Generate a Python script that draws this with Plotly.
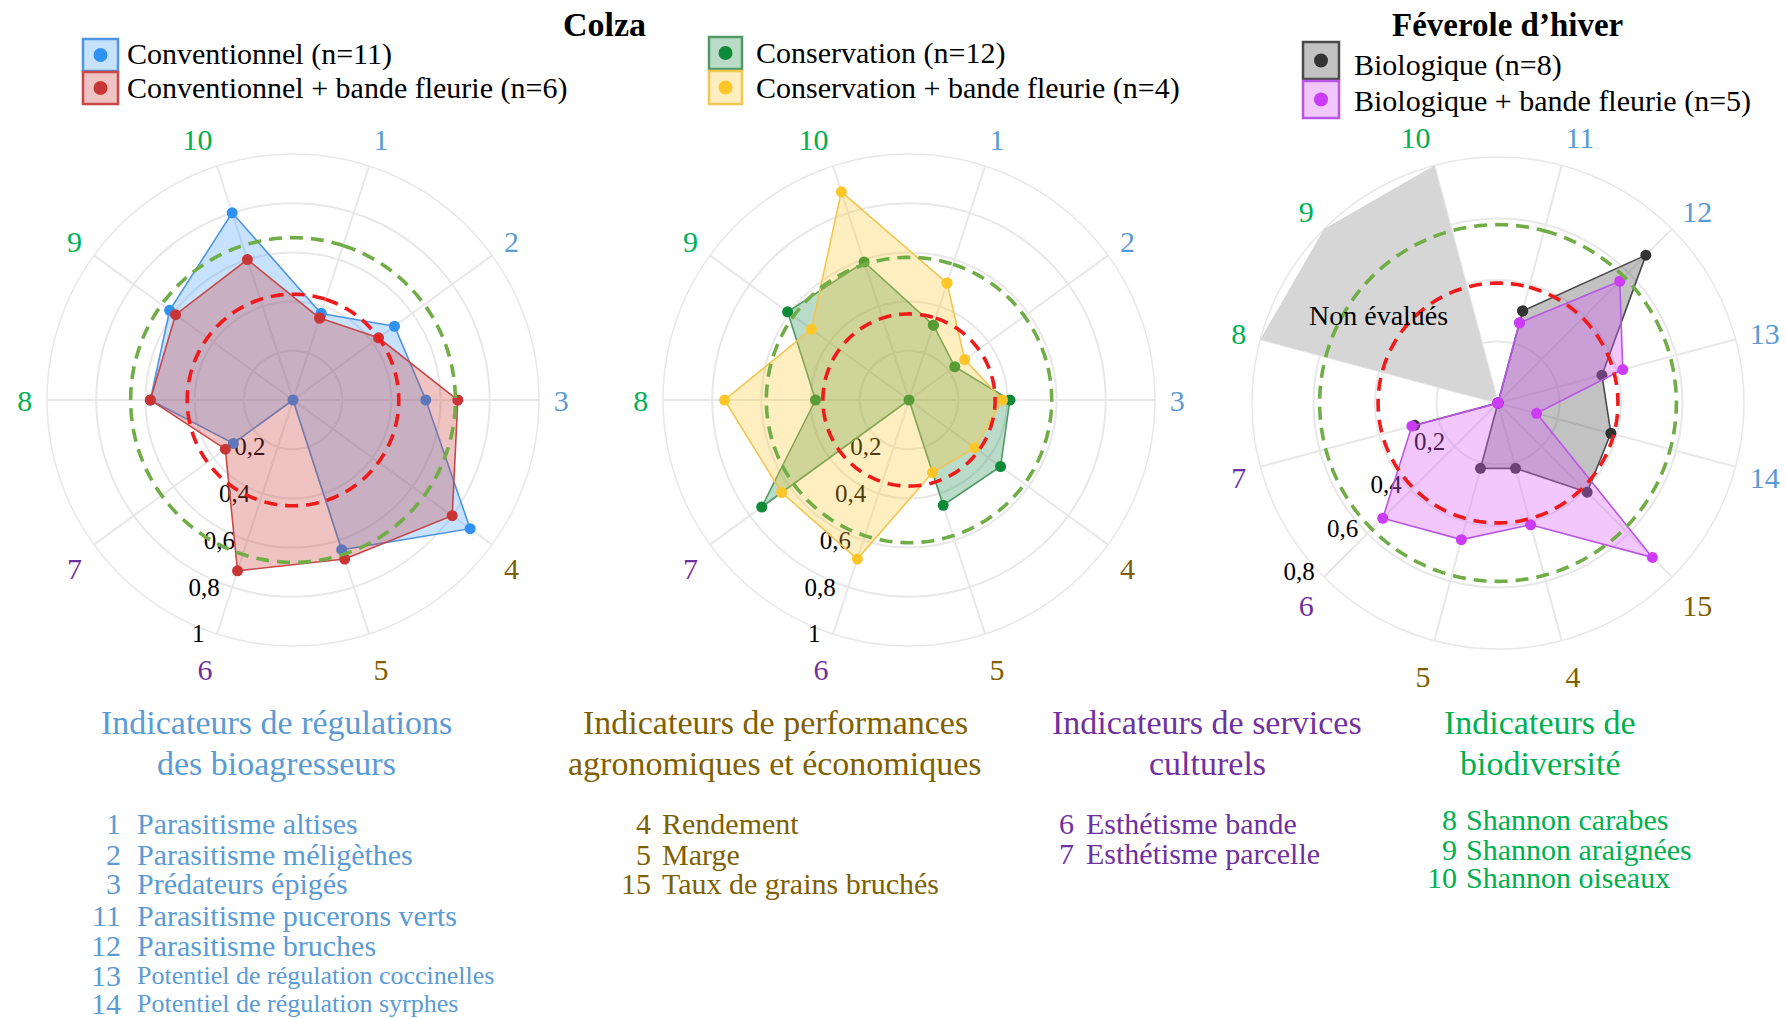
import numpy as np
import plotly.graph_objects as go

W, H = 1786, 1019

# ---------------- data ----------------
colza_axes = ["1", "2", "3", "4", "5", "6", "7", "8", "9", "10"]
feverole_axes = ["11", "12", "13", "14", "15", "4", "5", "6", "7", "8", "9", "10"]

conventionnel = [0.37, 0.51, 0.54, 0.89, 0.64, 0.00, 0.30, 0.58, 0.62, 0.80]
conventionnel_bf = [0.35, 0.43, 0.67, 0.80, 0.68, 0.73, 0.34, 0.58, 0.59, 0.60]
conservation = [0.32, 0.23, 0.41, 0.46, 0.45, 0.00, 0.74, 0.38, 0.61, 0.59]
conservation_bf = [0.50, 0.28, 0.38, 0.33, 0.31, 0.68, 0.64, 0.75, 0.49, 0.89]
biologique = [0.31, 0.68, 0.35, 0.38, 0.41, 0.22, 0.22, 0.00, 0.28, 0.00, 0.00, 0.00]
biologique_bf = [0.27, 0.56, 0.42, 0.13, 0.71, 0.41, 0.46, 0.53, 0.29, 0.00, 0.00, 0.00]

non_evalues = ["8", "9", "10"]

# dashed reference circles (red, green) for each panel
ref_red = [0.43, 0.35, 0.39]
ref_green = [0.66, 0.58, 0.58]

radial_max = [1.0, 1.0, 0.8]
radial_ticks = [[0.2, 0.4, 0.6, 0.8, 1.0], [0.2, 0.4, 0.6, 0.8, 1.0], [0.2, 0.4, 0.6, 0.8]]
radial_ticktext = [["0,2", "0,4", "0,6", "0,8", "1"], ["0,2", "0,4", "0,6", "0,8", "1"],
                   ["0,2", "0,4", "0,6", "0,8"]]

legend_names = [
    ["Conventionnel (n=11)", "Conventionnel + bande fleurie (n=6)"],
    ["Conservation (n=12)", "Conservation + bande fleurie (n=4)"],
    ["Biologique (n=8)", "Biologique + bande fleurie (n=5)"],
]

# indicator groups
BLUE, OLIVE, PURPLE, GREEN = "#5b9bd5", "#7f6000", "#7030a0", "#00b050"
axis_color = {
    "1": BLUE, "2": BLUE, "3": BLUE, "11": BLUE, "12": BLUE, "13": BLUE, "14": BLUE,
    "4": OLIVE, "5": OLIVE, "15": OLIVE,
    "6": PURPLE, "7": PURPLE,
    "8": GREEN, "9": GREEN, "10": GREEN,
}

group_titles = [
    ["Indicateurs de régulations", "des bioagresseurs"],
    ["Indicateurs de performances", "agronomiques et économiques"],
    ["Indicateurs de services", "culturels"],
    ["Indicateurs de", "biodiversité"],
]
group_colors = [BLUE, OLIVE, PURPLE, GREEN]
group_items = [
    [("1", "Parasitisme altises"), ("2", "Parasitisme méligèthes"), ("3", "Prédateurs épigés"),
     ("11", "Parasitisme pucerons verts"), ("12", "Parasitisme bruches"),
     ("13", "Potentiel de régulation coccinelles"), ("14", "Potentiel de régulation syrphes")],
    [("4", "Rendement"), ("5", "Marge"), ("15", "Taux de grains bruchés")],
    [("6", "Esthétisme bande"), ("7", "Esthétisme parcelle")],
    [("8", "Shannon carabes"), ("9", "Shannon araignées"), ("10", "Shannon oiseaux")],
]

# ---------------- styles ----------------
styles = [
    [dict(m="#2f92f2", l="#4f95e0", f="rgba(51,150,250,0.28)"),
     dict(m="#c93535", l="#c84848", f="rgba(205,55,55,0.30)")],
    [dict(m="#0f8a38", l="#4f9a66", f="rgba(25,135,70,0.30)"),
     dict(m="#ffc629", l="#f2c650", f="rgba(255,200,45,0.30)")],
    [dict(m="#333333", l="#4a4a4a", f="rgba(70,70,70,0.33)"),
     dict(m="#cc3cf7", l="#b956e6", f="rgba(215,95,250,0.35)")],
]

FONT = "Liberation Serif, Times New Roman, serif"
centers = [(293, 400), (909, 400), (1498, 403)]
radius = 246


def px(x, y):
    return x / W, 1 - y / H


def theta_of(axes):
    n = len(axes)
    return [i * 360 / n for i in range(n)]


def note(x, y, text, size, color="black", xanchor="center"):
    ax, ay = px(x, y)
    return dict(x=ax, y=ay, xref="paper", yref="paper", text=text, showarrow=False,
                xanchor=xanchor, yanchor="middle",
                font=dict(size=size, color=color, family=FONT))


fig = go.Figure()

panels = [
    (colza_axes, [conventionnel, conventionnel_bf]),
    (colza_axes, [conservation, conservation_bf]),
    (feverole_axes, [biologique, biologique_bf]),
]

for k, (axes, series) in enumerate(panels):
    sub = "polar" if k == 0 else f"polar{k + 1}"
    th = theta_of(axes)
    if k == 2:
        idx = [axes.index(a) for a in non_evalues]
        fig.add_trace(go.Scatterpolar(
            r=[0] + [radial_max[k]] * len(idx) + [0],
            theta=[th[idx[0]]] + [th[i] for i in idx] + [th[idx[-1]]],
            mode="lines", fill="toself", fillcolor="#d6d6d6",
            line=dict(width=0, color="#d6d6d6"), subplot=sub, showlegend=False,
            hoverinfo="skip"))
    for s, vals in enumerate(series):
        st = styles[k][s]
        fig.add_trace(go.Scatterpolar(
            r=vals + vals[:1], theta=th + th[:1],
            mode="lines+markers", fill="toself", fillcolor=st["f"],
            line=dict(color=st["l"], width=1.6),
            marker=dict(color=st["m"], size=11),
            name=legend_names[k][s], subplot=sub, showlegend=False))
    circle = np.linspace(0, 360, 241)
    for val, col in ((ref_red[k], "#f01a1a"), (ref_green[k], "#70ad47")):
        fig.add_trace(go.Scatterpolar(
            r=[val] * len(circle), theta=circle, mode="lines",
            line=dict(color=col, width=3.6, dash="13px,8px"),
            subplot=sub, showlegend=False, hoverinfo="skip"))

    cx, cy = centers[k]
    n = len(axes)
    first_angle = 180 / n
    axis_pos = 5 if k < 2 else 7
    r_angle = 90 - (first_angle + axis_pos * 360 / n)
    layout_polar = dict(
        domain=dict(x=[(cx - radius) / W, (cx + radius) / W],
                    y=[1 - (cy + radius) / H, 1 - (cy - radius) / H]),
        bgcolor="white",
        angularaxis=dict(
            type="linear", thetaunit="degrees",
            tickmode="array", tickvals=th,
            ticktext=[f"<span style='color:{axis_color[a]}'>{a}</span>" for a in axes],
            rotation=90 - first_angle, direction="clockwise",
            showline=True, linecolor="#e8e8e8", linewidth=1.5,
            gridcolor="#e8e8e8", gridwidth=1.5,
            ticks="outside", ticklen=8, tickcolor="rgba(0,0,0,0)",
            tickfont=dict(size=30, family=FONT),
            layer="below traces",
        ),
        radialaxis=dict(
            range=[0, radial_max[k]], tickmode="array",
            tickvals=radial_ticks[k], ticktext=radial_ticktext[k],
            angle=r_angle, tickangle=r_angle,
            side="clockwise", showline=False, ticks="",
            gridcolor="#e8e8e8", gridwidth=1.5,
            tickfont=dict(size=25, color="black", family=FONT),
            layer="below traces",
        ),
    )
    fig.update_layout(**{sub: layout_polar})

annotations = []
shapes = []

# titles
annotations.append(note(604, 25, "<b>Colza</b>", 34))
annotations.append(note(1507, 25, "<b>Féverole d’hiver</b>", 33))

# legends (drawn as boxes with a dot)
legend_boxes = [
    [(83, 39, 118, 71), (83, 72, 118, 104)],
    [(709, 37, 742, 69), (709, 71, 742, 104)],
    [(1303, 42, 1339, 79), (1303, 81, 1339, 118)],
]
legend_text_x = [125, 754, 1352]
legend_text_y = [[54, 88], [53, 88], [65, 101]]
for k in range(3):
    for s in range(2):
        x0, y0, x1, y1 = legend_boxes[k][s]
        st = styles[k][s]
        a0, b1 = px(x0, y0)
        a1, b0 = px(x1, y1)
        shapes.append(dict(type="rect", xref="paper", yref="paper", x0=a0, x1=a1, y0=b0, y1=b1,
                           fillcolor=st["f"], line=dict(color=st["l"], width=2.5)))
        mx, my = (x0 + x1) / 2, (y0 + y1) / 2
        c0x, c0y = px(mx - 7, my - 7)
        c1x, c1y = px(mx + 7, my + 7)
        shapes.append(dict(type="circle", xref="paper", yref="paper", x0=c0x, x1=c1x, y0=c1y, y1=c0y,
                           fillcolor=st["m"], line=dict(width=0)))
        annotations.append(note(legend_text_x[k], legend_text_y[k][s], legend_names[k][s], 30,
                                xanchor="left"))

# "Non évalués"
annotations.append(note(1378, 315, "Non évalués", 28))

# indicator groups below the charts
title_x = [276, 775, 1207, 1540]
title_y = [722, 763]
num_right = [123, 653, 1076, 1459]
txt_left = [135, 660, 1084, 1464]
row_y = [
    [823, 854, 883, 915, 945, 975, 1003],
    [823, 854, 883],
    [823, 853],
    [819, 849, 877],
]
for g in range(4):
    for li, line in enumerate(group_titles[g]):
        annotations.append(note(title_x[g], title_y[li], line, 34, group_colors[g]))
    for r, (num, name) in enumerate(group_items[g]):
        annotations.append(note(num_right[g], row_y[g][r], num, 30, group_colors[g], "right"))
        size = 26 if name.startswith("Potentiel") else 30
        annotations.append(note(txt_left[g], row_y[g][r], name, size, group_colors[g], "left"))

fig.update_layout(
    width=W, height=H,
    margin=dict(l=0, r=0, t=0, b=0),
    paper_bgcolor="white",
    font=dict(family=FONT),
    showlegend=False,
    annotations=annotations,
    shapes=shapes,
)

fig.write_html("out.html", config={"displayModeBar": False},
               post_script="document.body.style.margin='0';")
